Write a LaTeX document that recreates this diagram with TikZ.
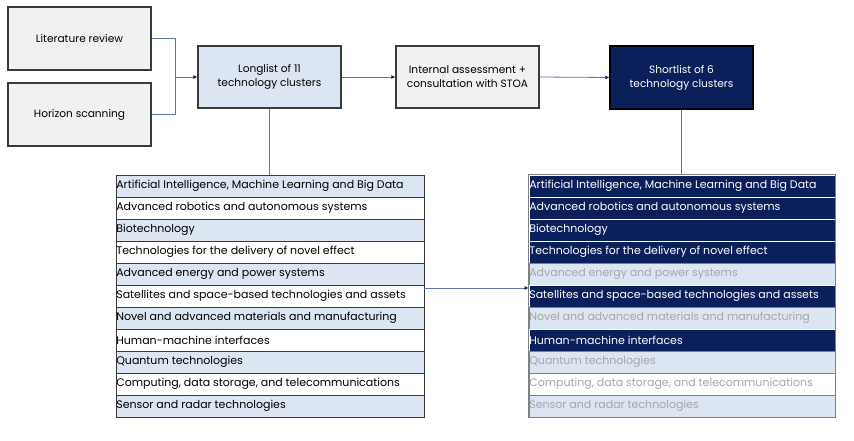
\documentclass[tikz,border=0pt]{standalone}
\usepackage{fontspec}
\setmainfont{Poppins}
\usetikzlibrary{arrows.meta}
\definecolor{navy}{HTML}{0B1F5A}
\definecolor{lblue}{HTML}{DCE6F2}
\definecolor{boxgray}{HTML}{F1F1F1}
\definecolor{conn}{HTML}{5A76A4}
\definecolor{frame}{HTML}{3A3A3A}
\definecolor{dimtext}{HTML}{A6A6A6}
\tikzset{
  topbox/.style={draw=frame, line width=1.2pt, fill=boxgray, minimum width=143pt, minimum height=63pt, align=center, font=\fontsize{10.6}{14}\selectfont, inner sep=0pt},
  rowL/.style={draw=frame, line width=0.8pt, minimum width=308pt, minimum height=22pt, inner sep=0pt},
  rowR/.style={draw=gray, line width=0.8pt, minimum width=306pt, minimum height=22pt, inner sep=0pt},
  rowblue/.style={fill=lblue},
  rowwhite/.style={fill=white},
  rowsel/.style={fill=navy, draw=white, text=white},
  bdim/.style={fill=lblue, text=dimtext},
  wdim/.style={fill=white, text=dimtext},
  connline/.style={draw=conn, line width=0.8pt},
  arr/.style={connline, -{Latex[length=4pt,width=4pt,color=navy]}},
  rowtext/.style={anchor=west, inner sep=0.5pt, font=\fontsize{11}{13}\selectfont}
}
\begin{document}
\begin{tikzpicture}[x=1pt,y=-1pt]
\useasboundingbox (0,0) rectangle (854,441);
\fill[white] (0,0) rectangle (854,441);

\node[topbox] (lit) at (79.5,38.5) {Literature review};
\node[topbox] (hor) at (79.5,114.5) {Horizon scanning};
\node[topbox, fill=lblue, minimum height=62pt] (long) at (269.5,77) {Longlist of 11\\technology clusters};
\node[topbox, minimum height=62pt] (int) at (467.5,77) {Internal assessment +\\consultation with STOA};
\node[topbox, fill=navy, text=white, draw=black] (short) at (681.5,77.5) {Shortlist of 6\\technology clusters};

\coordinate (join) at (175,77);
\draw[connline] (lit.east) -| (join);
\draw[connline] (hor.east) -| (join);
\draw[arr] (join) -- (long.west);
\draw[arr] (long.east) -- (int.west);
\draw[arr] (int.east) -- (short.west);

% left table
\foreach \i/\t/\c in {
  1/Artificial Intelligence{,} Machine Learning and Big Data/rowblue,
  2/Advanced robotics and autonomous systems/rowwhite,
  3/Biotechnology/rowblue,
  4/Technologies for the delivery of novel effect/rowwhite,
  5/Advanced energy and power systems/rowblue,
  6/Satellites and space-based technologies and assets/rowwhite,
  7/Novel and advanced materials and manufacturing/rowblue,
  8/Human-machine interfaces/rowwhite,
  9/Quantum technologies/rowblue,
  10/{Computing, data storage, and telecommunications}/rowwhite,
  11/Sensor and radar technologies/rowblue}{
  \node[rowL, \c] (L\i) at (270,{175+22*(\i-1)+11}) {};
  \node[rowtext] at (L\i.west) {\t};
}

% right table
\foreach \i/\t/\c in {
  1/Artificial Intelligence{,} Machine Learning and Big Data/rowsel,
  2/Advanced robotics and autonomous systems/rowsel,
  3/Biotechnology/rowsel,
  4/Technologies for the delivery of novel effect/rowsel,
  5/Advanced energy and power systems/bdim,
  6/Satellites and space-based technologies and assets/rowsel,
  7/Novel and advanced materials and manufacturing/bdim,
  8/Human-machine interfaces/rowsel,
  9/Quantum technologies/bdim,
  10/{Computing, data storage, and telecommunications}/wdim,
  11/Sensor and radar technologies/bdim}{
  \node[rowR, \c] (R\i) at (682,{175+22*(\i-1)+11}) {};
  \node[rowtext, \c, draw=none, fill=none] at (R\i.west) {\t};
}
\draw[gray, line width=0.8pt] (R1.north west) rectangle (R11.south east);

\draw[connline] (long.south) -- (L1.north -| long.south);
\draw[connline] (short.south) -- (R1.north -| short.south);
\draw[arr] ([yshift=8pt]L6.east) -- ([yshift=8pt]R6.west);
\end{tikzpicture}
\end{document}
